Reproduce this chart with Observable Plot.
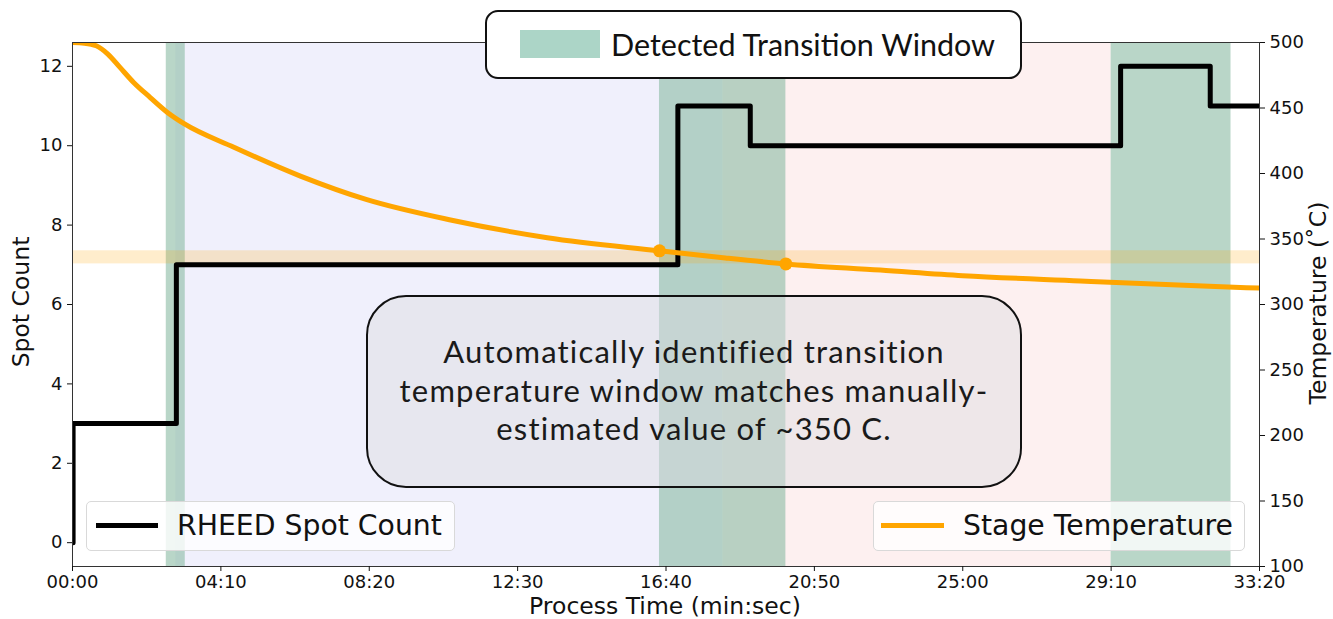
<!DOCTYPE html>
<html>
<head>
<meta charset="utf-8">
<script src="https://cdn.jsdelivr.net/npm/d3@7"></script>
<script src="https://cdn.jsdelivr.net/npm/@observablehq/plot@0.6"></script>
<style>
  html, body { margin: 0; padding: 0; background: #fff; }
  #wrap { position: relative; width: 1333px; height: 619px; overflow: hidden; }
  .legend { position: absolute; box-sizing: border-box; }
  .lg-small { background: rgba(255,255,255,0.8); border: 1px solid #d9d9d9; border-radius: 5px; height: 50px; }
  .lg-small .sw { position: absolute; height: 5px; top: 21px; }
  .lg-small .tx { position: absolute; top: 0; line-height: 48px; font-family: "DejaVu Sans", sans-serif; font-size: 28.3px; color: #111; white-space: nowrap; }
  #topLegend { left: 485px; top: 10px; width: 537px; height: 69px; background: #fff; border: 2.5px solid #111; border-radius: 13px; }
  #topLegend .patch { position: absolute; left: 33px; top: 18px; width: 80px; height: 28px; background: #acd5c7; }
  #topLegend .tx { position: absolute; left: 124px; top: 0; line-height: 64px; font-family: Lato, sans-serif; font-size: 30.5px; color: #111; white-space: nowrap; }
  #note { left: 366px; top: 295px; width: 656px; height: 193px; background: rgba(220,220,224,0.46); border: 2.5px solid #111; border-radius: 40px; font-family: Lato, sans-serif; font-size: 31px; letter-spacing: 1.2px; color: #1a1a1a; text-align: center; line-height: 38.5px; padding-top: 35px; }
  .axlab { position: absolute; font-family: "DejaVu Sans", sans-serif; font-size: 23.5px; color: #111; white-space: nowrap; line-height: 1; }
  .rot { transform: translate(-50%, -50%) rotate(-90deg); }
</style>
</head>
<body>
<div id="wrap"></div>
<script>
// ---- data ----
const tempTimes  = [0, 20, 40, 60, 80, 103, 131, 160, 188, 272, 384, 496, 637, 800, 989, 1100, 1202, 1361, 1500, 1698, 1800, 2000];
const tempValues = [500, 499.5, 497.5, 491, 481, 469.5, 458, 446.6, 438, 420, 398, 380, 364.5, 351, 341, 335.5, 331, 326.3, 322, 318, 316, 312.5];

const spotTimes  = [0, 1, 175, 1020, 1142, 1766, 1917, 2000];
const spotCounts = [0, 3, 7, 11, 10, 12, 11, 11];

const windowStarts = [158, 989, 1750];
const windowEnds   = [190, 1202, 1952];

const phaseStarts = [174, 1096];
const phaseEnds   = [1096, 1750];
const phaseNames  = ["before", "after"];

const transitionTimes = [989, 1202];
const transitionTemps = [341, 331];

const xTicks = [0, 250, 500, 750, 1000, 1250, 1500, 1750, 2000];
const spotTicks = [0, 2, 4, 6, 8, 10, 12];
const tempTicks = [100, 150, 200, 250, 300, 350, 400, 450, 500];

// ---- scales ----
const yMin = -0.6, yMax = 12.6, tMin = 100, tMax = 500;
const toY = t => yMin + (t - tMin) / (tMax - tMin) * (yMax - yMin);
const fromY = y => tMin + (y - yMin) / (yMax - yMin) * (tMax - tMin);
const fmtTime = s => String(Math.floor(s / 60)).padStart(2, "0") + ":" + String(Math.round(s % 60)).padStart(2, "0");

const temp = tempTimes.map((t, i) => ({t, y: toY(tempValues[i])}));
const spot = spotTimes.map((t, i) => ({t, c: spotCounts[i]}));
const windows = windowStarts.map((s, i) => ({x1: s, x2: windowEnds[i]}));
const phases = phaseStarts.map((s, i) => ({x1: s, x2: phaseEnds[i], name: phaseNames[i]}));
const marks = transitionTimes.map((t, i) => ({t, y: toY(transitionTemps[i])}));
const band = [{y1: toY(Math.min(...transitionTemps)), y2: toY(Math.max(...transitionTemps))}];

const chart = Plot.plot({
  width: 1333,
  height: 619,
  marginLeft: 72,
  marginRight: 74,
  marginTop: 42,
  marginBottom: 53,
  style: {fontFamily: "DejaVu Sans, sans-serif", fontSize: "18px", color: "#111", background: "transparent"},
  x: {domain: [0, 2000]},
  y: {domain: [yMin, yMax]},
  marks: [
    Plot.rect(phases, {x1: "x1", x2: "x2", y1: yMin, y2: yMax, fill: d => d.name === "before" ? "#f0f0fc" : "#fdf0f0"}),
    Plot.rect(windows, {x1: "x1", x2: "x2", y1: yMin, y2: yMax, fill: "#8abba3", fillOpacity: 0.6}),
    Plot.rect(band, {x1: 0, x2: 2000, y1: "y1", y2: "y2", fill: "orange", fillOpacity: 0.2}),
    Plot.line(spot, {x: "t", y: "c", curve: "step-after", stroke: "black", strokeWidth: 5, clip: true}),
    Plot.line(temp, {x: "t", y: "y", curve: "monotone-x", stroke: "#ffa500", strokeWidth: 5, clip: true}),
    Plot.dot(marks, {x: "t", y: "y", r: 6.5, fill: "#ffa500"}),
    Plot.frame({stroke: "#333", strokeWidth: 1}),
    Plot.axisX(xTicks, {tickFormat: fmtTime, tickSize: 5, tickPadding: 4, label: null, fontSize: 18}),
    Plot.axisY(spotTicks, {anchor: "left", tickSize: 5, tickPadding: 5, label: null, fontSize: 18}),
    Plot.axisY(tempTicks.map(toY), {anchor: "right", tickFormat: d => String(Math.round(fromY(d))), tickSize: 5, tickPadding: 5, label: null, fontSize: 18})
  ]
});

const wrap = document.getElementById("wrap");
wrap.appendChild(chart);

function add(html) { wrap.insertAdjacentHTML("beforeend", html); }
add(`<div class="axlab rot" style="left:22px;top:302px;">Spot Count</div>`);
add(`<div class="axlab rot" style="left:1319px;top:303px;">Temperature (˚C)</div>`);
add(`<div class="axlab" style="left:665px;top:607px;transform:translate(-50%,-50%);">Process Time (min:sec)</div>`);
add(`<div class="legend lg-small" style="left:86px;top:501px;width:369px;">
  <div class="sw" style="left:9px;width:62px;background:#000;"></div>
  <div class="tx" style="left:90px;">RHEED Spot Count</div></div>`);
add(`<div class="legend lg-small" style="left:873px;top:501px;width:372px;">
  <div class="sw" style="left:7px;width:63px;background:#ffa500;"></div>
  <div class="tx" style="left:89px;">Stage Temperature</div></div>`);
add(`<div class="legend" id="topLegend"><div class="patch"></div><div class="tx">Detected Transition Window</div></div>`);
add(`<div class="legend" id="note">Automatically identified transition<br>temperature window matches manually-<br>estimated value of ~350 C.</div>`);
</script>
</body>
</html>
